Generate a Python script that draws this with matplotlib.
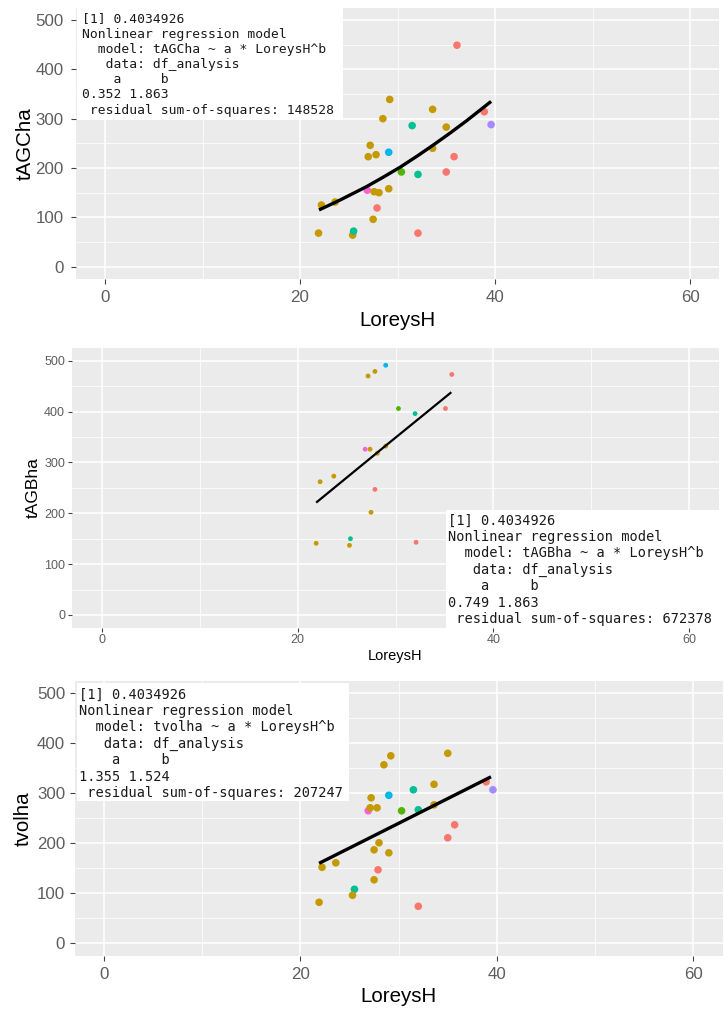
import matplotlib

matplotlib.use("Agg")
import matplotlib.pyplot as plt
from matplotlib.patches import Rectangle


FIG_W, FIG_H = 724, 1010

# ggplot default hue palette for 7 factor levels
GROUP_COLORS = ["#F8766D", "#C49A00", "#53B400", "#00C094", "#00B6EB", "#A58AFF", "#FB61D7"]

X_MAJOR = [0, 20, 40, 60]
X_MINOR = [10, 30, 50]
Y_MAJOR = [0, 100, 200, 300, 400, 500]
Y_MINOR = [50, 150, 250, 350, 450]

# tAGCha ~ LoreysH
agc_h = [36.1, 29.2, 33.6, 28.5, 38.9, 39.6, 31.5, 35.0, 27.2, 29.1, 33.6, 27.0, 27.8, 35.8, 30.4,
         35.0, 32.1, 26.9, 27.6, 28.1, 29.1, 22.2, 23.6, 27.9, 27.5, 21.9, 25.4, 25.5, 32.1]
agc_val = [449, 339, 319, 300, 314, 288, 286, 283, 246, 232, 240, 223, 227, 223, 192,
           192, 187, 155, 152, 150, 158, 125, 131, 119, 96, 68, 64, 72, 68]
agc_grp = [1, 2, 2, 2, 1, 6, 4, 2, 2, 5, 2, 2, 2, 1, 3,
           1, 4, 7, 2, 2, 2, 2, 2, 1, 2, 2, 2, 4, 1]
agc_fit_h = [21.95, 24.0, 26.8, 28.5, 30.3, 32.0, 33.7, 35.4, 37.1, 39.6]
agc_fit = [115, 134, 162, 181, 202, 224, 247, 271, 296, 335]
agc_note = ("[1] 0.4034926\n"
            "Nonlinear regression model\n"
            "  model: tAGCha ~ a * LoreysH^b\n"
            "   data: df_analysis\n"
            "    a     b\n"
            "0.352 1.863\n"
            " residual sum-of-squares: 148528")

# tAGBha ~ LoreysH
agb_h = [29.0, 27.2, 27.9, 35.75, 30.3, 35.1, 32.0, 26.9, 27.4, 28.15, 29.0, 22.3, 23.7, 27.9,
         27.5, 21.9, 25.4, 25.3, 32.1]
agb_val = [491, 470, 479, 473, 406, 406, 396, 326, 326, 318, 332, 262, 273, 247,
           202, 141, 150, 137, 143]
agb_grp = [5, 2, 2, 1, 3, 1, 4, 7, 2, 2, 2, 2, 2, 1,
           2, 2, 4, 2, 1]
agb_fit_h = [21.9, 29.0, 35.7]
agb_fit = [221, 333, 438]
agb_note = ("[1] 0.4034926\n"
            "Nonlinear regression model\n"
            "  model: tAGBha ~ a * LoreysH^b\n"
            "   data: df_analysis\n"
            "    a     b\n"
            "0.749 1.863\n"
            " residual sum-of-squares: 672378")

# tvolha ~ LoreysH
vol_h = [35.0, 29.2, 28.5, 33.6, 31.5, 38.9, 39.6, 27.2, 29.0, 26.9, 27.1, 27.8, 30.3, 32.0,
         33.6, 35.7, 35.0, 28.0, 27.5, 29.0, 27.9, 22.2, 23.6, 27.5, 25.5, 25.3, 21.9, 32.0]
vol_val = [380, 375, 357, 318, 307, 323, 307, 291, 296, 265, 271, 271, 265, 267,
           277, 237, 211, 201, 187, 181, 147, 152, 161, 127, 108, 96, 82, 74]
vol_grp = [2, 2, 2, 2, 4, 1, 6, 2, 5, 7, 2, 2, 3, 4,
           2, 1, 1, 2, 2, 2, 1, 2, 2, 2, 4, 2, 2, 1]
vol_fit_h = [21.9, 30.1, 39.4]
vol_fit = [160, 241, 333]
vol_note = ("[1] 0.4034926\n"
            "Nonlinear regression model\n"
            "  model: tvolha ~ a * LoreysH^b\n"
            "   data: df_analysis\n"
            "    a     b\n"
            "1.355 1.524\n"
            " residual sum-of-squares: 207247")


# layout of the three stacked screenshots, in pixels of the final image
PANELS = [
    dict(h=agc_h, v=agc_val, g=agc_grp, fh=agc_fit_h, fv=agc_fit, note=agc_note, ylabel="tAGCha",
         rect=(75.75, 7.7, 719.25, 279), tick_fs=12.2, lab_fs=14.8, ylab_fs=14.8,
         ylab_x=25, xlab_y=321, tick_len=3.7, xpad=4.3, ypad=5.0, s=30, lw=2.4,
         box=(76.5, 8.3, 342.7, 120), note_xy=(81.7, 12.5), note_fs=9.4),
    dict(h=agb_h, v=agb_val, g=agb_grp, fh=agb_fit_h, fv=agb_fit, note=agb_note, ylabel="tAGBha",
         rect=(72.3, 348, 718.7, 627.7), tick_fs=9.0, lab_fs=10.5, ylab_fs=12.5,
         ylab_x=33, xlab_y=656, tick_len=2.8, xpad=1.5, ypad=2.4, s=12, lw=1.6,
         box=(445.7, 510, 718.7, 627.7), note_xy=(447.7, 513.5), note_fs=9.85),
    dict(h=vol_h, v=vol_val, g=vol_grp, fh=vol_fit_h, fv=vol_fit, note=vol_note, ylabel="tvolha",
         rect=(74.5, 680.8, 722.8, 955.8), tick_fs=12.2, lab_fs=14.8, ylab_fs=14.8,
         ylab_x=23, xlab_y=997, tick_len=3.7, xpad=4.1, ypad=3.1, s=30, lw=2.4,
         box=(76.7, 683.3, 349.3, 800.7), note_xy=(79.3, 687.5), note_fs=9.8),
]


def draw_panel(fig, p):
    left, top, right, bottom = p["rect"]
    ax = fig.add_axes([left / FIG_W, 1 - bottom / FIG_H, (right - left) / FIG_W, (bottom - top) / FIG_H])

    def to_axes(px, py):
        return (px - left) / (right - left), (bottom - py) / (bottom - top)

    ax.set_facecolor("#EBEBEB")
    ax.set_xlim(-3, 63)
    ax.set_ylim(-25, 525)
    ax.set_xticks(X_MAJOR)
    ax.set_xticks(X_MINOR, minor=True)
    ax.set_yticks(Y_MAJOR)
    ax.set_yticks(Y_MINOR, minor=True)
    ax.grid(which="major", color="white", linewidth=1.1)
    ax.grid(which="minor", color="white", linewidth=0.55)
    ax.set_axisbelow(True)
    for spine in ax.spines.values():
        spine.set_visible(False)

    ax.tick_params(which="major", length=p["tick_len"], width=0.8, color="#444444",
                   labelsize=p["tick_fs"], labelcolor="#5E5E5E")
    ax.tick_params(which="minor", length=0)
    ax.tick_params(axis="x", pad=p["xpad"])
    ax.tick_params(axis="y", pad=p["ypad"])
    for lab in ax.get_xticklabels() + ax.get_yticklabels():
        lab.set_family("Liberation Sans")

    colors = [GROUP_COLORS[k - 1] for k in p["g"]]
    ax.scatter(p["h"], p["v"], c=colors, s=p["s"], linewidths=0, zorder=2)
    ax.plot(p["fh"], p["fv"], color="black", linewidth=p["lw"], zorder=3,
            solid_joinstyle="round", solid_capstyle="butt")

    bx0, by0, bx1, by1 = p["box"]
    ax0, ay1 = to_axes(bx0, by0)
    ax1, ay0 = to_axes(bx1, by1)
    ax.add_patch(Rectangle((ax0, ay0), ax1 - ax0, ay1 - ay0, transform=ax.transAxes,
                           facecolor="white", edgecolor="none", zorder=4, clip_on=False))
    tx, ty = to_axes(*p["note_xy"])
    ax.text(tx, ty, p["note"], transform=ax.transAxes, ha="left", va="top",
            family="DejaVu Sans Mono", fontsize=p["note_fs"], linespacing=1.22,
            color="#1A1A1A", zorder=5)

    ax.set_xlabel("LoreysH", family="Liberation Sans", fontsize=p["lab_fs"], va="center")
    ax.set_ylabel(p["ylabel"], family="Liberation Sans", fontsize=p["ylab_fs"], va="center")
    ax.xaxis.set_label_coords(0.5, to_axes(0, p["xlab_y"])[1])
    ax.yaxis.set_label_coords(to_axes(p["ylab_x"], 0)[0], 0.5)
    return ax


def main():
    fig = plt.figure(figsize=(FIG_W / 100, FIG_H / 100), dpi=100)
    for p in PANELS:
        draw_panel(fig, p)
    fig.savefig("out.png", dpi=100)
    plt.close(fig)


if __name__ == "__main__":
    main()
